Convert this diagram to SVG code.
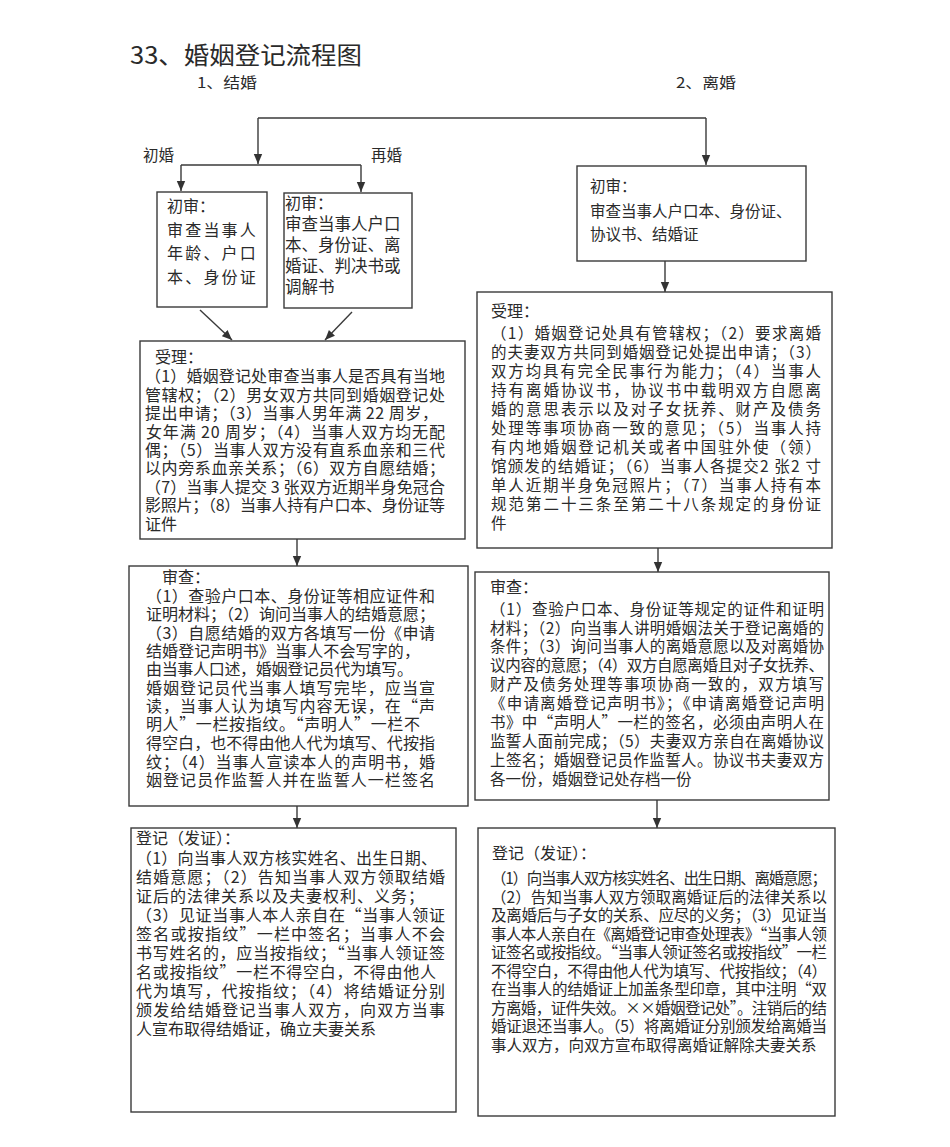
<svg xmlns="http://www.w3.org/2000/svg" width="950" height="1147" viewBox="0 0 950 1147">
<defs>
<style>
.box{fill:#fff;stroke:#3a3a3a;stroke-width:1.4}
.t{font-family:"Noto Sans CJK SC","Noto Sans",sans-serif;fill:#2a2a2a;font-size:16px}
.r{font-size:15.5px}
.c{stroke:#3a3a3a;stroke-width:1.4;fill:none}
.a{marker-end:url(#arr)}
</style>
<marker id="arr" markerUnits="userSpaceOnUse" markerWidth="10" markerHeight="10" refX="10" refY="5" orient="auto">
<path d="M0,0.8 L10,5 L0,9.2 z" fill="#333"/>
</marker>
</defs>
<rect width="950" height="1147" fill="#fff"/>

<g id="titles">
<text class="t" x="130" y="64" style="font-size:24px" textLength="232" lengthAdjust="spacingAndGlyphs">33、婚姻登记流程图</text>
<text class="t" x="197" y="88" style="font-size:15px" textLength="60" lengthAdjust="spacingAndGlyphs">1、结婚</text>
<text class="t" x="676" y="88" style="font-size:15px" textLength="60" lengthAdjust="spacingAndGlyphs">2、离婚</text>
<text class="t" x="143" y="161" style="font-size:15.5px">初婚</text>
<text class="t" x="371" y="161" style="font-size:15.5px">再婚</text>
</g>

<g id="connectors">
<path class="c" d="M258,118 H706"/>
<path class="c a" d="M258,118 V164"/>
<path class="c a" d="M706,118 V165"/>
<path class="c" d="M181,165 H361"/>
<path class="c a" d="M181,165 V191"/>
<path class="c a" d="M361,165 V192"/>
<path class="c a" d="M665,261 V292"/>
<path class="c a" d="M200,310 L232,340"/>
<path class="c a" d="M352,312 L325,340"/>
<path class="c a" d="M297,539 V566"/>
<path class="c a" d="M658,548 V572"/>
<path class="c a" d="M297,806 V828"/>
<path class="c a" d="M657,800 V828"/>
</g>

<g id="first-review-1">
<rect class="box" x="157" y="192" width="110" height="115"/>
<text class="t" style="font-size:16px">
<tspan x="167" y="212">初审：</tspan>
<tspan x="167" y="236" style="letter-spacing:2.2px">审查当事人</tspan>
<tspan x="167" y="259" style="letter-spacing:2.2px">年龄、户口</tspan>
<tspan x="167" y="283" style="letter-spacing:2.2px">本、身份证</tspan>
</text>
</g>

<g id="first-review-2">
<rect class="box" x="284" y="193" width="128" height="115"/>
<text class="t" style="font-size:16.5px">
<tspan x="285" y="209" style="font-size:16px">初审：</tspan>
<tspan x="285" y="230">审查当事人户口</tspan>
<tspan x="285" y="251">本、身份证、离</tspan>
<tspan x="285" y="272">婚证、判决书或</tspan>
<tspan x="285" y="293">调解书</tspan>
</text>
</g>

<g id="first-review-divorce">
<rect class="box" x="577" y="166" width="229" height="95"/>
<text class="t" style="font-size:15.5px">
<tspan x="590" y="192">初审：</tspan>
<tspan x="590" y="217">审查当事人户口本、身份证、</tspan>
<tspan x="590" y="240">协议书、结婚证</tspan>
</text>
</g>

<g id="accept-marriage">
<rect class="box" x="140" y="341" width="325" height="198"/>
<text class="t">
<tspan x="155" y="363">受理：</tspan>
<tspan x="145" y="382" textLength="300">（1）婚姻登记处审查当事人是否具有当地</tspan>
<tspan x="145" y="401" textLength="300">管辖权；（2）男女双方共同到婚姻登记处</tspan>
<tspan x="145" y="419" textLength="293">提出申请；（3）当事人男年满 22 周岁，</tspan>
<tspan x="146" y="438" textLength="299">女年满 20 周岁；（4）当事人双方均无配</tspan>
<tspan x="145" y="456" textLength="300">偶；（5）当事人双方没有直系血亲和三代</tspan>
<tspan x="145" y="474" textLength="300">以内旁系血亲关系；（6）双方自愿结婚；</tspan>
<tspan x="145" y="493" textLength="300">（7）当事人提交 3 张双方近期半身免冠合</tspan>
<tspan x="145" y="511" textLength="300">影照片；（8）当事人持有户口本、身份证等</tspan>
<tspan x="145" y="530">证件</tspan>
</text>
</g>

<g id="accept-divorce">
<rect class="box" x="477" y="292" width="355" height="256"/>
<text class="t r">
<tspan x="491" y="317" style="font-size:16px">受理：</tspan>
<tspan x="491" y="339" textLength="330">（1）婚姻登记处具有管辖权；（2）要求离婚</tspan>
<tspan x="491" y="358" textLength="330">的夫妻双方共同到婚姻登记处提出申请；（3）</tspan>
<tspan x="491" y="377" textLength="330">双方均具有完全民事行为能力；（4）当事人</tspan>
<tspan x="491" y="396" textLength="330">持有离婚协议书，协议书中载明双方自愿离</tspan>
<tspan x="491" y="415" textLength="330">婚的意思表示以及对子女抚养、财产及债务</tspan>
<tspan x="491" y="434" textLength="330">处理等事项协商一致的意见；（5）当事人持</tspan>
<tspan x="491" y="453" textLength="330">有内地婚姻登记机关或者中国驻外使（领）</tspan>
<tspan x="491" y="472" textLength="330">馆颁发的结婚证；（6）当事人各提交2 张2 寸</tspan>
<tspan x="491" y="491" textLength="330">单人近期半身免冠照片；（7）当事人持有本</tspan>
<tspan x="491" y="510" textLength="330">规范第二十三条至第二十八条规定的身份证</tspan>
<tspan x="491" y="529">件</tspan>
</text>
</g>

<g id="review-marriage">
<rect class="box" x="129" y="566" width="339" height="240"/>
<text class="t">
<tspan x="162" y="583">审查：</tspan>
<tspan x="146" y="602" textLength="289">（1）查验户口本、身份证等相应证件和</tspan>
<tspan x="146" y="620" textLength="289">证明材料；（2）询问当事人的结婚意愿；</tspan>
<tspan x="146" y="639" textLength="289">（3）自愿结婚的双方各填写一份《申请</tspan>
<tspan x="146" y="657" textLength="274">结婚登记声明书》当事人不会写字的，</tspan>
<tspan x="146" y="675" textLength="267">由当事人口述，婚姻登记员代为填写。</tspan>
<tspan x="146" y="694" textLength="289">婚姻登记员代当事人填写完毕，应当宣</tspan>
<tspan x="146" y="712" textLength="289">读，当事人认为填写内容无误，在“声</tspan>
<tspan x="146" y="730" textLength="274">明人”一栏按指纹。“声明人”一栏不</tspan>
<tspan x="146" y="749" textLength="289">得空白，也不得由他人代为填写、代按指</tspan>
<tspan x="146" y="768" textLength="289">纹；（4）当事人宣读本人的声明书，婚</tspan>
<tspan x="146" y="786" textLength="289">姻登记员作监誓人并在监誓人一栏签名</tspan>
</text>
</g>

<g id="review-divorce">
<rect class="box" x="475" y="572" width="354" height="228"/>
<text class="t r">
<tspan x="490" y="593" style="font-size:16px">审查：</tspan>
<tspan x="490" y="615" textLength="334">（1）查验户口本、身份证等规定的证件和证明</tspan>
<tspan x="490" y="634" textLength="334">材料；（2）向当事人讲明婚姻法关于登记离婚的</tspan>
<tspan x="490" y="652" textLength="334">条件；（3）询问当事人的离婚意愿以及对离婚协</tspan>
<tspan x="490" y="671" textLength="334">议内容的意愿；（4）双方自愿离婚且对子女抚养、</tspan>
<tspan x="490" y="690" textLength="334">财产及债务处理等事项协商一致的，双方填写</tspan>
<tspan x="490" y="709" textLength="334">《申请离婚登记声明书》；《申请离婚登记声明</tspan>
<tspan x="490" y="728" textLength="334">书》中“声明人”一栏的签名，必须由声明人在</tspan>
<tspan x="490" y="747" textLength="334">监誓人面前完成；（5）夫妻双方亲自在离婚协议</tspan>
<tspan x="490" y="766" textLength="334">上签名；婚姻登记员作监誓人。协议书夫妻双方</tspan>
<tspan x="490" y="785">各一份，婚姻登记处存档一份</tspan>
</text>
</g>

<g id="register-marriage">
<rect class="box" x="131" y="828" width="325" height="284"/>
<text class="t">
<tspan x="136" y="844">登记（发证）：</tspan>
<tspan x="136" y="864" textLength="301">（1）向当事人双方核实姓名、出生日期、</tspan>
<tspan x="136" y="883" textLength="309">结婚意愿；（2）告知当事人双方领取结婚</tspan>
<tspan x="136" y="902" textLength="288">证后的法律关系以及夫妻权利、义务；</tspan>
<tspan x="136" y="921" textLength="309">（3）见证当事人本人亲自在“当事人领证</tspan>
<tspan x="136" y="940" textLength="309">签名或按指纹”一栏中签名；当事人不会</tspan>
<tspan x="136" y="959" textLength="309">书写姓名的，应当按指纹；“当事人领证签</tspan>
<tspan x="136" y="978" textLength="300">名或按指纹”一栏不得空白，不得由他人</tspan>
<tspan x="136" y="997" textLength="309">代为填写，代按指纹；（4）将结婚证分别</tspan>
<tspan x="136" y="1016" textLength="309">颁发给结婚登记当事人双方，向双方当事</tspan>
<tspan x="136" y="1035">人宣布取得结婚证，确立夫妻关系</tspan>
</text>
</g>

<g id="register-divorce">
<rect class="box" x="478" y="828" width="357" height="288"/>
<text class="t r">
<tspan x="492" y="859" style="font-size:16px">登记（发证）：</tspan>
<tspan x="491" y="884" textLength="336">（1）向当事人双方核实姓名、出生日期、离婚意愿；</tspan>
<tspan x="491" y="902.5" textLength="336">（2）告知当事人双方领取离婚证后的法律关系以</tspan>
<tspan x="491" y="921" textLength="336">及离婚后与子女的关系、应尽的义务；（3）见证当</tspan>
<tspan x="491" y="939.5" textLength="336">事人本人亲自在《离婚登记审查处理表》“当事人领</tspan>
<tspan x="491" y="958" textLength="336">证签名或按指纹。“当事人领证签名或按指纹”一栏</tspan>
<tspan x="491" y="976.5" textLength="336">不得空白，不得由他人代为填写、代按指纹；（4）</tspan>
<tspan x="491" y="995" textLength="336">在当事人的结婚证上加盖条型印章，其中注明“双</tspan>
<tspan x="491" y="1013.5" textLength="336">方离婚，证件失效。××婚姻登记处”。注销后的结</tspan>
<tspan x="491" y="1032" textLength="336">婚证退还当事人。（5）将离婚证分别颁发给离婚当</tspan>
<tspan x="491" y="1050.5">事人双方，向双方宣布取得离婚证解除夫妻关系</tspan>
</text>
</g>
</svg>
